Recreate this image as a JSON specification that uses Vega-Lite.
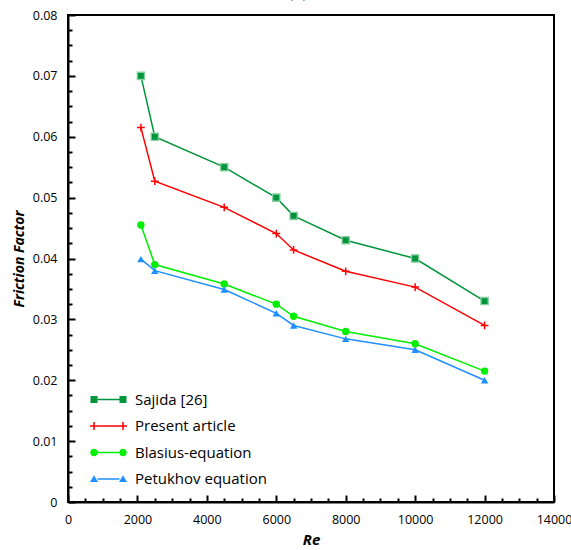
{
  "$schema": "https://vega.github.io/schema/vega-lite/v6.json",
  "width": 486,
  "height": 487,
  "autosize": {"type": "none"},
  "padding": {"left": 68, "top": 15, "right": 17, "bottom": 48},
  "title": {"text": "(a) Ga", "font": "Open Sans", "fontSize": 17, "fontWeight": "normal", "color": "black", "offset": 7, "anchor": "middle"},
  "config": {
    "view": {"stroke": "black", "strokeWidth": 2},
    "legend": {
      "orient": "none", "legendX": 33, "legendY": 377, "padding": 0,
      "symbolSize": 100, "symbolStrokeWidth": 0, "labelOffset": 19,
      "labelFont": "Open Sans", "labelFontSize": 15, "labelColor": "black",
      "rowPadding": 10.5
    }
  },
  "data": {
    "values": [
      {"series": "Sajida [26]", "Re": 2100, "f": 0.07},
      {"series": "Sajida [26]", "Re": 2500, "f": 0.06},
      {"series": "Sajida [26]", "Re": 4500, "f": 0.055},
      {"series": "Sajida [26]", "Re": 6000, "f": 0.05},
      {"series": "Sajida [26]", "Re": 6500, "f": 0.047},
      {"series": "Sajida [26]", "Re": 8000, "f": 0.043},
      {"series": "Sajida [26]", "Re": 10000, "f": 0.04},
      {"series": "Sajida [26]", "Re": 12000, "f": 0.033},
      {"series": "Present article", "Re": 2100, "f": 0.0615},
      {"series": "Present article", "Re": 2500, "f": 0.0527},
      {"series": "Present article", "Re": 4500, "f": 0.0484},
      {"series": "Present article", "Re": 6000, "f": 0.0441},
      {"series": "Present article", "Re": 6500, "f": 0.0414},
      {"series": "Present article", "Re": 8000, "f": 0.0379},
      {"series": "Present article", "Re": 10000, "f": 0.0353},
      {"series": "Present article", "Re": 12000, "f": 0.029},
      {"series": "Blasius-equation", "Re": 2100, "f": 0.0455},
      {"series": "Blasius-equation", "Re": 2500, "f": 0.039},
      {"series": "Blasius-equation", "Re": 4500, "f": 0.0358},
      {"series": "Blasius-equation", "Re": 6000, "f": 0.0325},
      {"series": "Blasius-equation", "Re": 6500, "f": 0.0305},
      {"series": "Blasius-equation", "Re": 8000, "f": 0.028},
      {"series": "Blasius-equation", "Re": 10000, "f": 0.026},
      {"series": "Blasius-equation", "Re": 12000, "f": 0.0215},
      {"series": "Petukhov equation", "Re": 2100, "f": 0.0399},
      {"series": "Petukhov equation", "Re": 2500, "f": 0.038},
      {"series": "Petukhov equation", "Re": 4500, "f": 0.0349},
      {"series": "Petukhov equation", "Re": 6000, "f": 0.031},
      {"series": "Petukhov equation", "Re": 6500, "f": 0.029},
      {"series": "Petukhov equation", "Re": 8000, "f": 0.0268},
      {"series": "Petukhov equation", "Re": 10000, "f": 0.025},
      {"series": "Petukhov equation", "Re": 12000, "f": 0.02}
    ]
  },
  "encoding": {
    "x": {"field": "Re", "type": "quantitative", "scale": {"domain": [0, 14000], "nice": false}, "axis": null},
    "y": {"field": "f", "type": "quantitative", "scale": {"domain": [0, 0.08], "nice": false}, "axis": null}
  },
  "layer": [
    {
      "transform": [{"filter": "datum.series === 'Sajida [26]'"}],
      "mark": {"type": "line", "color": "#00953b", "strokeWidth": 1.5,
        "point": {"shape": "square", "filled": true, "fill": "#00953b", "stroke": "#86cf9f", "strokeWidth": 1.3, "size": 52, "opacity": 1}}
    },
    {
      "transform": [{"filter": "datum.series === 'Present article'"}],
      "mark": {"type": "line", "color": "#ff0000", "strokeWidth": 1.5,
        "point": {"shape": "M-1,0H1M0,-1V1", "filled": false, "stroke": "#ff0000", "strokeWidth": 1.5, "size": 60, "opacity": 1}}
    },
    {
      "transform": [{"filter": "datum.series === 'Blasius-equation'"}],
      "mark": {"type": "line", "color": "#00ee00", "strokeWidth": 1.5,
        "point": {"shape": "circle", "filled": true, "fill": "#00ee00", "size": 55, "opacity": 1}}
    },
    {
      "transform": [{"filter": "datum.series === 'Petukhov equation'"}],
      "mark": {"type": "line", "color": "#1e90ff", "strokeWidth": 1.5,
        "point": {"shape": "triangle-up", "filled": true, "fill": "#1e90ff", "size": 55, "opacity": 1}}
    },
    {
      "transform": [{"filter": "false"}],
      "mark": {"type": "point", "filled": true, "opacity": 1},
      "encoding": {
        "x": {"field": "Re", "type": "quantitative",
          "axis": {"values": [0, 2000, 4000, 6000, 8000, 10000, 12000, 14000], "format": "d", "title": "Re",
            "ticks": false, "domainColor": "black", "domainWidth": 2,
            "labelFont": "Open Sans", "labelFontSize": 12.5, "labelColor": "black", "labelPadding": 11,
            "labelFlush": false, "labelOverlap": false, "grid": false, "zindex": 2,
            "titleFont": "Open Sans", "titleFontSize": 15, "titleFontWeight": "bold", "titleFontStyle": "italic",
            "titleColor": "black", "titlePadding": 7}},
        "y": {"field": "f", "type": "quantitative",
          "axis": {"values": [0, 0.01, 0.02, 0.03, 0.04, 0.05, 0.06, 0.07, 0.08], "format": ".2~f", "title": "Friction Factor",
            "ticks": false, "domainColor": "black", "domainWidth": 2,
            "labelFont": "Open Sans", "labelFontSize": 12.5, "labelColor": "black", "labelPadding": 11,
            "labelOverlap": false, "grid": false, "zindex": 2,
            "titleFont": "Open Sans", "titleFontSize": 14, "titleFontWeight": "bold", "titleFontStyle": "italic",
            "titleColor": "black", "titlePadding": 6}},
        "color": {"field": "series", "type": "nominal",
          "scale": {"domain": ["Sajida [26]", "Present article", "Blasius-equation", "Petukhov equation"],
                    "range": ["#00953b", "#ff0000", "#00ee00", "#1e90ff"]},
          "legend": {"title": null}},
        "shape": {"field": "series", "type": "nominal",
          "scale": {"domain": ["Sajida [26]", "Present article", "Blasius-equation", "Petukhov equation"],
                    "range": [
                      "M-2.2,-0.15H2.2V0.15H-2.2Z M-3.6,-0.7H-2.2V0.7H-3.6Z M2.2,-0.7H3.6V0.7H2.2Z",
                      "M-2.9,-0.15H2.9V0.15H-2.9Z M-3.7,-0.15H-2.1V0.15H-3.7Z M-3.05,-0.8H-2.75V0.8H-3.05Z M2.1,-0.15H3.7V0.15H2.1Z M2.75,-0.8H3.05V0.8H2.75Z",
                      "M-2.15,-0.15H2.15V0.15H-2.15Z M-3.65,0A0.75,0.75 0 1,1 -2.15,0A0.75,0.75 0 1,1 -3.65,0Z M2.15,0A0.75,0.75 0 1,1 3.65,0A0.75,0.75 0 1,1 2.15,0Z",
                      "M-2.2,-0.15H2.2V0.15H-2.2Z M-2.9,-0.75L-2.1,0.6H-3.7Z M2.9,-0.75L3.7,0.6H2.1Z"
                    ]},
          "legend": {"title": null}}
      }
    },
    {
      "transform": [{"filter": "false"}],
      "mark": {"type": "point"},
      "encoding": {
        "x": {"field": "Re", "type": "quantitative",
          "axis": {"orient": "bottom", "offset": -7, "values": [0, 2000, 4000, 6000, 8000, 10000, 12000, 14000],
            "labels": false, "domain": false, "title": null, "grid": false, "ticks": true, "tickSize": 7, "tickWidth": 2, "tickColor": "black", "zindex": 2}},
        "y": {"field": "f", "type": "quantitative",
          "axis": {"orient": "left", "offset": -7, "values": [0, 0.01, 0.02, 0.03, 0.04, 0.05, 0.06, 0.07, 0.08],
            "labels": false, "domain": false, "title": null, "grid": false, "ticks": true, "tickSize": 7, "tickWidth": 2, "tickColor": "black", "zindex": 2}}
      }
    },
    {
      "transform": [{"filter": "false"}],
      "mark": {"type": "point"},
      "encoding": {
        "x": {"field": "Re", "type": "quantitative",
          "axis": {"orient": "bottom", "offset": -4, "values": [500, 1000, 1500, 2500, 3000, 3500, 4500, 5000, 5500, 6500, 7000, 7500, 8500, 9000, 9500, 10500, 11000, 11500, 12500, 13000, 13500],
            "labels": false, "domain": false, "title": null, "grid": false, "ticks": true, "tickSize": 4, "tickWidth": 2, "tickColor": "black", "zindex": 2}},
        "y": {"field": "f", "type": "quantitative",
          "axis": {"orient": "left", "offset": -4, "values": [0.0025, 0.005, 0.0075, 0.0125, 0.015, 0.0175, 0.0225, 0.025, 0.0275, 0.0325, 0.035, 0.0375, 0.0425, 0.045, 0.0475, 0.0525, 0.055, 0.0575, 0.0625, 0.065, 0.0675, 0.0725, 0.075, 0.0775],
            "labels": false, "domain": false, "title": null, "grid": false, "ticks": true, "tickSize": 4, "tickWidth": 2, "tickColor": "black", "zindex": 2}}
      }
    }
  ],
  "resolve": {
    "axis": {"x": "independent", "y": "independent"}
  }
}
